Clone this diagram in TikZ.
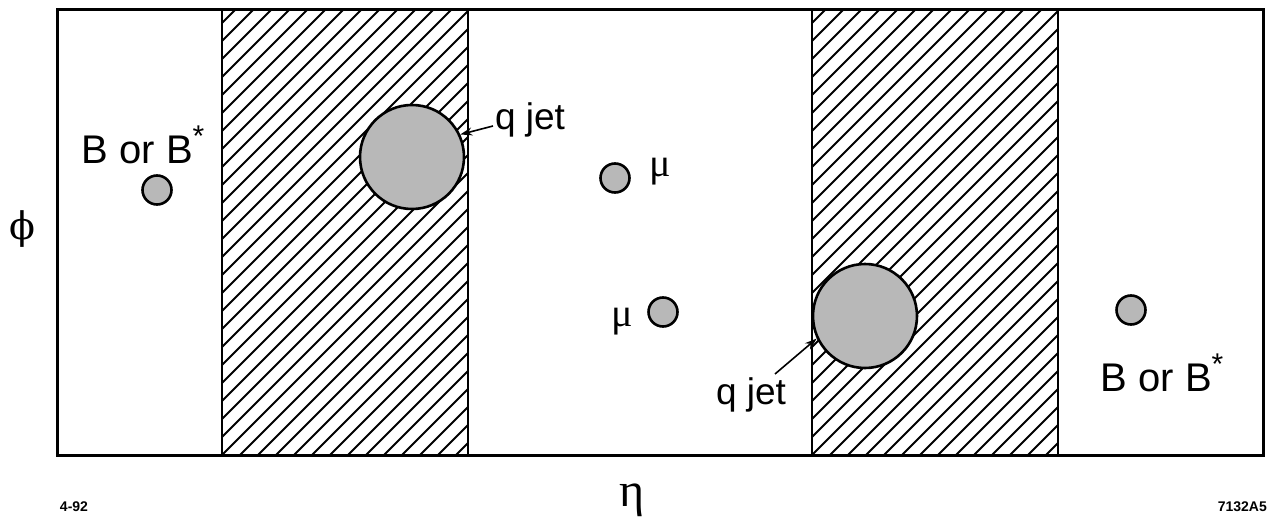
\documentclass[tikz,border=0pt]{standalone}
\usepackage{fontspec}
\setmainfont{Liberation Sans}
\newfontfamily\grk{DejaVu Serif}
\newfontfamily\grks{Liberation Serif}
\usetikzlibrary{arrows.meta}
\tikzset{
  frame/.style={line width=3pt},
  band/.style={line width=1.8pt},
  hatch/.style={line width=1.8pt},
  jet/.style={circle, draw, line width=2.6pt, fill=black!28, minimum size=104pt, inner sep=0pt},
  part/.style={circle, draw, line width=2.6pt, fill=black!28, minimum size=29pt, inner sep=0pt},
  lbl/.style={font=\fontsize{37}{40}\selectfont, inner sep=0pt},
  blbl/.style={font=\fontsize{40}{44}\selectfont, inner sep=0pt},
  glbl/.style={font=\grks\fontsize{40}{44}\selectfont, inner sep=0pt},
  small/.style={font=\bfseries\fontsize{14}{15}\selectfont, inner sep=0pt},
  ptr/.style={line width=1.6pt, -{Stealth[length=12pt,width=8pt]}}
}
\newcommand{\bstar}{B or B\raisebox{0.42em}{\fontsize{30}{30}\selectfont *}}
\begin{document}
\begin{tikzpicture}[x=1pt,y=-1pt]
\useasboundingbox (0,0) rectangle (1267,527);
% hatched bands
\foreach \xa/\xb in {222/468, 812/1058}{
  \begin{scope}
    \clip (\xa,10) rectangle (\xb,455);
    \foreach \i in {0,...,40}{
      \draw[hatch] (\xa-450+\i*18,455) -- ++(445,-445);
    }
  \end{scope}
  \draw[band] (\xa,10) -- (\xa,455);
  \draw[band] (\xb,10) -- (\xb,455);
}
\draw[frame] (57,10) rectangle (1263,455);
% jets
\node[jet] (j1) at (412,157) {};
\node[jet] (j2) at (865,316) {};
% particles
\node[part] (b1) at (157,190) {};
\node[part] (m1) at (615,178) {};
\node[part] (m2) at (663,312) {};
\node[part] (b2) at (1131,310) {};
% labels
\node[blbl] (lb1) at (143,145) {\bstar};
\node[blbl] (lb2) at (1162,373) {\bstar};
\node[lbl] (q1) at (530,120) {q jet};
\node[lbl] (q2) at (751,395) {q jet};
\node[glbl] (mu1) at (660,172) {μ};
\node[glbl] (mu2) at (622,322) {μ};
\coordinate (q1s) at (493,126);
\coordinate (q2s) at (775,374);
\draw[ptr] (q1s) -- (j1.25);
\draw[ptr] (q2s) -- (j2.205);
% axes
\node[font=\grk\fontsize{38}{40}\selectfont, inner sep=0pt] (phi) at (22,229) {ϕ};
\node[font=\grks\fontsize{48}{50}\selectfont, inner sep=0pt] (eta) at (632,500) {η};
\node[small] (d) at (74,507) {4-92};
\node[small, anchor=east] (id) at (1267,507) {7132A5};
\end{tikzpicture}
\end{document}
